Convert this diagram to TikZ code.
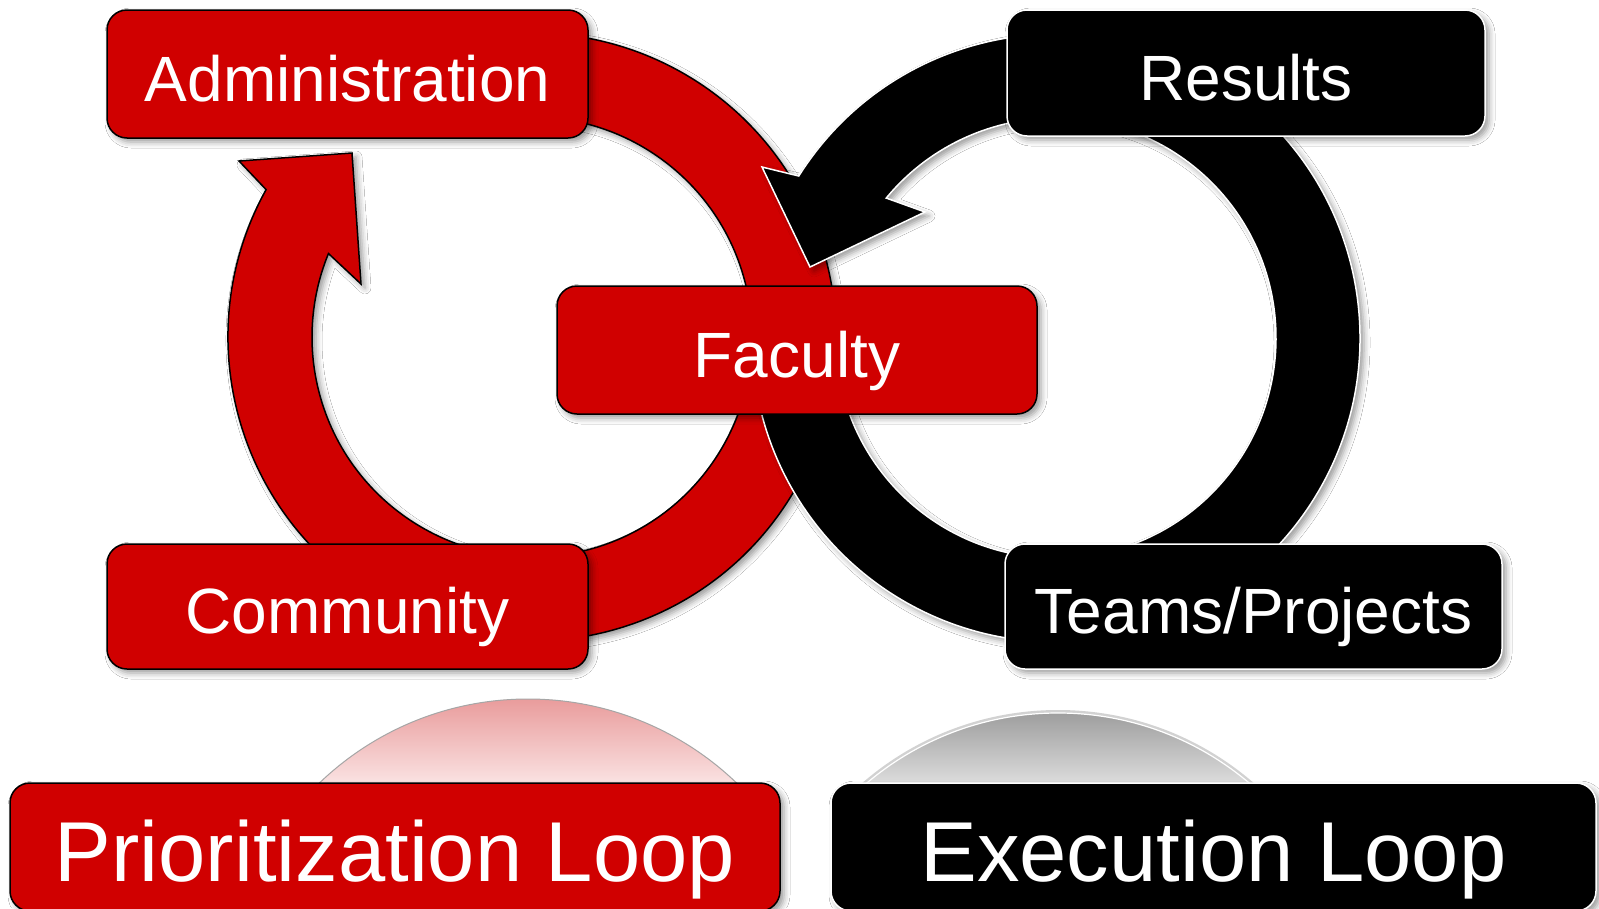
\documentclass[tikz,border=0pt]{standalone}
\usepackage{fontspec}
\setmainfont{Liberation Sans}
\usetikzlibrary{shadows.blur}
\definecolor{pred}{RGB}{208,0,0}
\definecolor{domered1}{RGB}{233,156,156}
\definecolor{domered2}{RGB}{250,226,226}
\definecolor{domegray1}{RGB}{158,158,158}
\definecolor{domegray2}{RGB}{220,220,220}
\begin{document}
\begin{tikzpicture}[x=1pt,y=1pt,
  softshadow/.style={blur shadow={shadow xshift=4pt, shadow yshift=-4pt, shadow blur radius=6pt, shadow opacity=40}},
  redbox/.style={draw=black, line width=1.5pt, fill=pred, rounded corners=20pt, text=white, inner sep=0pt, softshadow},
  blackbox/.style={draw=white, line width=1.5pt, fill=black, rounded corners=20pt, text=white, inner sep=0pt, softshadow},
  midtext/.style={font=\fontsize{64}{76}\selectfont, text height=54pt, text depth=0pt},
  bigtext/.style={font=\fontsize{85}{100}\selectfont, text height=68pt, text depth=0pt},
  ringred/.style={fill=pred, draw=black, line width=1.5pt, softshadow},
  ringblack/.style={fill=black, draw=white, line width=1.5pt, softshadow},
]
\useasboundingbox[fill=white] (0,0) rectangle (1599,-908);

% reflection domes
\begin{scope}
  \clip (0,-600) rectangle (1599,-783);
  \clip (528,-1000) circle[radius=301pt];
  \shade[top color=domered1, bottom color=domered2] (200,-699) rectangle (860,-783);
\end{scope}
\begin{scope}
  \clip (0,-600) rectangle (1599,-783);
  \draw[gray!70, line width=1pt] (528,-1000) circle[radius=301pt];
\end{scope}
\begin{scope}
  \clip (0,-600) rectangle (1599,-783);
  \clip (1058,-1009) circle[radius=296pt];
  \shade[top color=domegray1, bottom color=domegray2] (700,-713) rectangle (1400,-783);
\end{scope}
\begin{scope}
  \clip (0,-600) rectangle (1599,-783);
  \draw[gray!35, line width=3pt] (1058,-1009) circle[radius=297.5pt];
  \draw[white, line width=1.2pt] (1058,-1009) circle[radius=296pt];
\end{scope}

% red circular arrow (prioritization loop)
\path[ringred] ([shift={(532,-337)}]151:304pt)
  arc[start angle=151, end angle=460, radius=304pt]
  -- ([shift={(532,-337)}]460:220pt)
  arc[start angle=460, end angle=157.7, radius=220pt]
  -- (361,-284) -- (352,-153) -- (239,-161) -- cycle;

% black circular arrow (execution loop)
\path[ringblack] ([shift={(1056,-338)}]147.8:304pt)
  arc[start angle=147.8, end angle=-179, radius=304pt]
  -- ([shift={(1056,-338)}]-179:220pt)
  arc[start angle=-179, end angle=140.5, radius=220pt]
  -- (925,-212) -- (810,-267) -- (762,-167) -- cycle;

% boxes
\node[redbox, midtext, minimum width=481pt, minimum height=128pt] (admin) at (347.5,-74) {Administration};
\node[blackbox, midtext, minimum width=478pt, minimum height=126pt] (results) at (1246,-73) {Results};
\node[redbox, midtext, minimum width=480pt, minimum height=128pt] (faculty) at (797,-350) {Faculty};
\node[redbox, midtext, minimum width=481pt, minimum height=125pt] (community) at (347.5,-606.5) {Community};
\node[blackbox, midtext, minimum width=497pt, minimum height=125pt] (teams) at (1253.5,-606.5) {Teams/Projects};
\node[redbox, bigtext, minimum width=770pt, minimum height=128pt] (prio) at (395,-847) {Prioritization Loop};
\node[blackbox, bigtext, minimum width=765pt, minimum height=128pt] (exec) at (1213.5,-847) {Execution Loop};
\end{tikzpicture}
\end{document}
